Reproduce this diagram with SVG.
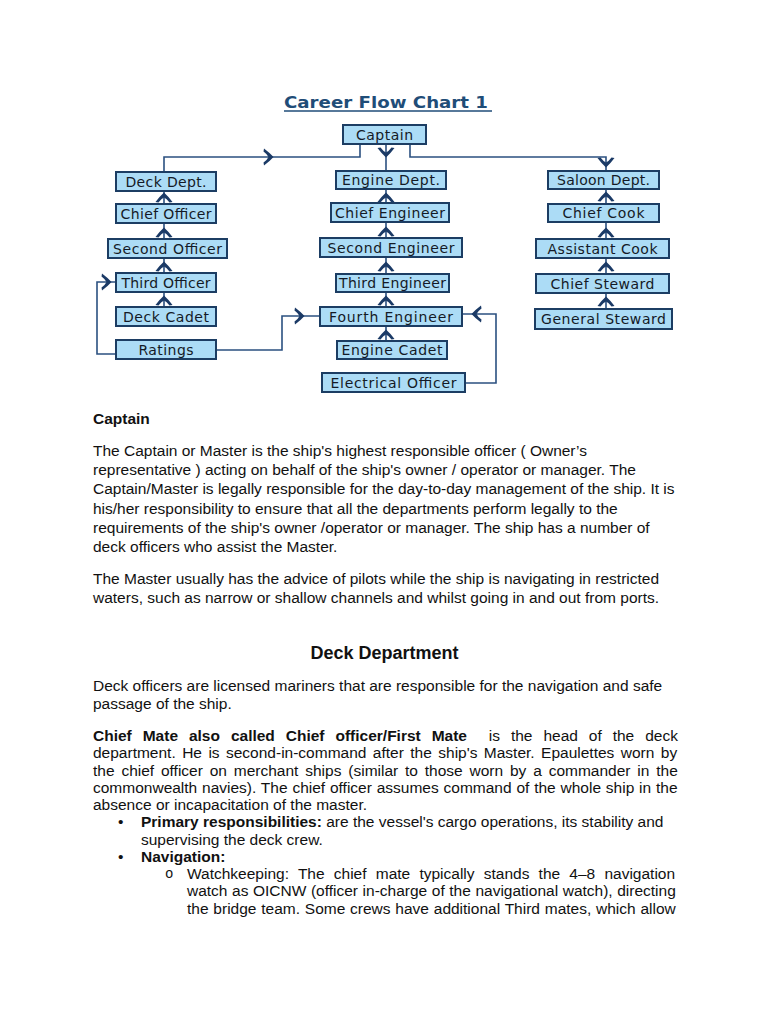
<svg xmlns="http://www.w3.org/2000/svg" xmlns:xlink="http://www.w3.org/1999/xlink" width="768" height="1024" viewBox="0 0 768 1024">
<style>
.box{fill:#acdcf6;stroke:#1c3d63;stroke-width:2}
.lbl{font-family:"DejaVu Sans",Verdana,sans-serif;font-size:14px;fill:#141a26;text-anchor:middle}
.ln{fill:none;stroke:#2b5080;stroke-width:1.6}
.body{font-family:"Liberation Sans",Arial,sans-serif;font-size:15.5px;fill:#111}
.b{font-weight:bold}
</style>
<defs>
<path id="ah" d="M0,-0.5 Q4,3 8.5,9 L5.5,9.5 Q2.5,5.5 0,4.5 Q-2.5,5.5 -5.5,9.5 L-8.5,9 Q-4,3 0,-0.5 Z" fill="#1b3a66"/>
</defs>
<rect width="768" height="1024" fill="#fff"/>
<g id="title">
<text x="284" y="108" font-family="DejaVu Sans,Verdana,sans-serif" font-weight="bold" font-size="16.5" fill="#1f4d78" textLength="204" lengthAdjust="spacingAndGlyphs">Career Flow Chart 1</text>
<line x1="284" y1="111" x2="492" y2="111" stroke="#1f4d78" stroke-width="1.6"/>
</g>
<g id="connectors">
<path class="ln" d="M360,144 V157 H164 V172"/>
<path class="ln" d="M386,144 V171"/>
<path class="ln" d="M410,144 V157 H606 V171"/>
<path class="ln" d="M116,354 H97 V282 H116"/>
<path class="ln" d="M216,350 H282 V316 H320"/>
<path class="ln" d="M465,383 H496 V314 H462"/>
<path class="ln" d="M164,191 V204 M164,223 V239 M164,258 V273 M164,292 V307"/>
<path class="ln" d="M386,189 V203 M386,222 V238 M386,257 V274 M386,292 V307 M386,326 V341"/>
<path class="ln" d="M606,189 V204 M606,222 V239 M606,258 V274 M606,293 V309"/>
<use xlink:href="#ah" transform="translate(386,157) rotate(180)"/>
<use xlink:href="#ah" transform="translate(606,167) rotate(180)"/>
<use xlink:href="#ah" transform="translate(273,157) rotate(90)"/>
<use xlink:href="#ah" transform="translate(111,282) rotate(90)"/>
<use xlink:href="#ah" transform="translate(304,316) rotate(90)"/>
<use xlink:href="#ah" transform="translate(472,314) rotate(-90)"/>
<use xlink:href="#ah" transform="translate(164,193)"/>
<use xlink:href="#ah" transform="translate(164,228)"/>
<use xlink:href="#ah" transform="translate(164,262)"/>
<use xlink:href="#ah" transform="translate(164,296)"/>
<use xlink:href="#ah" transform="translate(386,193)"/>
<use xlink:href="#ah" transform="translate(386,227)"/>
<use xlink:href="#ah" transform="translate(386,262)"/>
<use xlink:href="#ah" transform="translate(386,296)"/>
<use xlink:href="#ah" transform="translate(386,330)"/>
<use xlink:href="#ah" transform="translate(606,192)"/>
<use xlink:href="#ah" transform="translate(606,228)"/>
<use xlink:href="#ah" transform="translate(606,262)"/>
<use xlink:href="#ah" transform="translate(606,297)"/>
</g>
<g id="n-captain"><rect class="box" x="343" y="125" width="83" height="19"/><text class="lbl" x="384.5" y="139.5" textLength="57">Captain</text></g>
<g id="n-deck-dept"><rect class="box" x="116" y="172" width="100" height="19"/><text class="lbl" x="166" y="186.5" textLength="81">Deck Dept.</text></g>
<g id="n-chief-officer"><rect class="box" x="116" y="204" width="100" height="19"/><text class="lbl" x="166" y="218.5" textLength="91">Chief Officer</text></g>
<g id="n-second-officer"><rect class="box" x="108" y="239" width="119" height="19"/><text class="lbl" x="167.5" y="253.5" textLength="109">Second Officer</text></g>
<g id="n-third-officer"><rect class="box" x="116" y="273" width="100" height="19"/><text class="lbl" x="166" y="287.5" textLength="89">Third Officer</text></g>
<g id="n-deck-cadet"><rect class="box" x="116" y="307" width="100" height="19"/><text class="lbl" x="166" y="321.5" textLength="86">Deck Cadet</text></g>
<g id="n-ratings"><rect class="box" x="116" y="340" width="100" height="19"/><text class="lbl" x="166" y="354.5" textLength="55">Ratings</text></g>
<g id="n-engine-dept"><rect class="box" x="336" y="171" width="110" height="18"/><text class="lbl" x="391" y="185" textLength="98">Engine Dept.</text></g>
<g id="n-chief-engineer"><rect class="box" x="331" y="203" width="118" height="19"/><text class="lbl" x="390" y="217.5" textLength="110">Chief Engineer</text></g>
<g id="n-second-engineer"><rect class="box" x="320" y="238" width="142" height="19"/><text class="lbl" x="391" y="252.5" textLength="127">Second Engineer</text></g>
<g id="n-third-engineer"><rect class="box" x="336" y="274" width="113" height="18"/><text class="lbl" x="392.5" y="288" textLength="107">Third Engineer</text></g>
<g id="n-fourth-engineer"><rect class="box" x="320" y="307" width="142" height="19"/><text class="lbl" x="391" y="321.5" textLength="124">Fourth Engineer</text></g>
<g id="n-engine-cadet"><rect class="box" x="337" y="341" width="110" height="18"/><text class="lbl" x="392" y="355" textLength="101">Engine Cadet</text></g>
<g id="n-electrical-officer"><rect class="box" x="322" y="373" width="143" height="19"/><text class="lbl" x="393.5" y="387.5" textLength="126">Electrical Officer</text></g>
<g id="n-saloon-dept"><rect class="box" x="548" y="171" width="111" height="18"/><text class="lbl" x="603.5" y="185" textLength="93">Saloon Dept.</text></g>
<g id="n-chief-cook"><rect class="box" x="548" y="204" width="111" height="18"/><text class="lbl" x="603.5" y="218" textLength="82">Chief Cook</text></g>
<g id="n-assistant-cook"><rect class="box" x="536" y="239" width="133" height="19"/><text class="lbl" x="602.5" y="253.5" textLength="110">Assistant Cook</text></g>
<g id="n-chief-steward"><rect class="box" x="536" y="274" width="133" height="19"/><text class="lbl" x="602.5" y="288.5" textLength="104">Chief Steward</text></g>
<g id="n-general-steward"><rect class="box" x="535" y="309" width="137" height="20"/><text class="lbl" x="603.5" y="324" textLength="125">General Steward</text></g>
<g id="text">
<text class="body b" x="93" y="424">Captain</text>
<text class="body" x="93" y="456">The Captain or Master is the ship's highest responsible officer ( Owner’s</text>
<text class="body" x="93" y="475.2">representative ) acting on behalf of the ship's owner / operator or manager. The</text>
<text class="body" x="93" y="494.4">Captain/Master is legally responsible for the day-to-day management of the ship. It is</text>
<text class="body" x="93" y="513.6">his/her responsibility to ensure that all the departments perform legally to the</text>
<text class="body" x="93" y="532.8">requirements of the ship's owner /operator or manager. The ship has a number of</text>
<text class="body" x="93" y="552">deck officers who assist the Master.</text>
<text class="body" x="93" y="584">The Master usually has the advice of pilots while the ship is navigating in restricted</text>
<text class="body" x="93" y="603">waters, such as narrow or shallow channels and whilst going in and out from ports.</text>
<text x="384.5" y="659" font-family="Liberation Sans,Arial,sans-serif" font-weight="bold" font-size="18" fill="#111" text-anchor="middle">Deck Department</text>
<text class="body" x="93" y="691">Deck officers are licensed mariners that are responsible for the navigation and safe</text>
<text class="body" x="93" y="709">passage of the ship.</text>
<text class="body" x="93" y="741" word-spacing="6.63"><tspan class="b">Chief Mate also called Chief officer/First Mate</tspan> <tspan dx="10.9">is the head of the deck</tspan></text>
<text class="body" x="93" y="758.25" word-spacing="2.12">department. He is second-in-command after the ship's Master. Epaulettes worn by</text>
<text class="body" x="93" y="775.5" word-spacing="2.53">the chief officer on merchant ships (similar to those worn by a commander in the</text>
<text class="body" x="93" y="792.75" word-spacing="0.51">commonwealth navies). The chief officer assumes command of the whole ship in the</text>
<text class="body" x="93" y="810">absence or incapacitation of the master.</text>
<text class="body" x="118" y="827.25">•</text>
<text class="body" x="141" y="827.25"><tspan class="b">Primary responsibilities:</tspan> are the vessel's cargo operations, its stability and</text>
<text class="body" x="141" y="844.5">supervising the deck crew.</text>
<text class="body" x="118" y="861.75">•</text>
<text class="body b" x="141" y="861.75">Navigation:</text>
<text x="165" y="878" font-family="Liberation Mono,Courier New,monospace" font-size="14" fill="#111">o</text>
<text class="body" x="187" y="879" word-spacing="4.9">Watchkeeping: The chief mate typically stands the 4–8 navigation</text>
<text class="body" x="187" y="896.25" word-spacing="0.26">watch as OICNW (officer in-charge of the navigational watch), directing</text>
<text class="body" x="187" y="913.5" word-spacing="0.49">the bridge team. Some crews have additional Third mates, which allow</text>
</g>
</svg>
